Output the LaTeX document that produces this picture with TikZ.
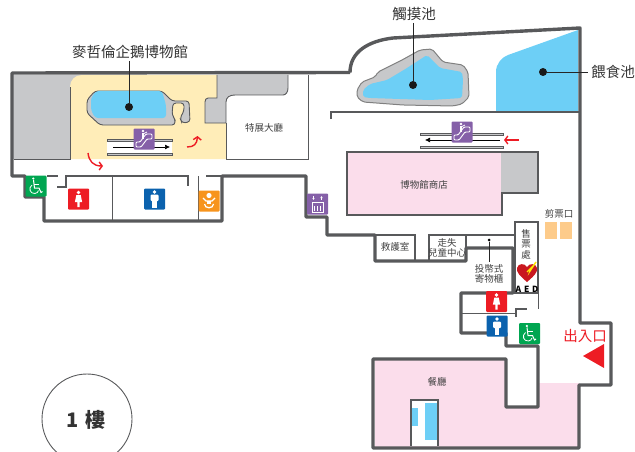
\documentclass[tikz,border=0pt]{standalone}
\usepackage{fontspec}
\setmainfont{Noto Sans CJK TC}
\usepackage{tikz}
\usetikzlibrary{calc,arrows.meta}
\definecolor{wallgray}{HTML}{58595B}
\definecolor{rockgray}{HTML}{C7C8CA}
\definecolor{poolblue}{HTML}{6DCFF6}
\definecolor{sandy}{HTML}{FFEDB8}
\definecolor{shoppink}{HTML}{FBDDEB}
\definecolor{signred}{HTML}{ED1C24}
\definecolor{signblue}{HTML}{0B62AE}
\definecolor{signgreen}{HTML}{00A651}
\definecolor{signorange}{HTML}{F7941D}
\definecolor{signpurple}{HTML}{8560A8}
\definecolor{ticketorange}{HTML}{FDCB8A}
\tikzset{
  wall/.style={draw=wallgray,line width=3.4pt,line join=round},
  thinwall/.style={draw=wallgray,line width=0.9pt},
  midwall/.style={draw=wallgray,line width=1.2pt},
  room/.style={font=\fontsize{9.5}{10.5}\selectfont,text=black!75,align=center,inner sep=0pt},
  biglabel/.style={font=\fontsize{14.5}{15}\selectfont,text=black!80,inner sep=0pt},
  signbox/.style={rounded corners=1pt,minimum size=21pt,inner sep=0pt,text=white},
  leader/.style={draw=black!85,line width=0.8pt},
  spot/.style={circle,fill=black!90,inner sep=0pt,minimum size=8pt},
  redarrow/.style={draw=signred,line width=1.4pt,-{Straight Barb[length=3pt,width=8pt]}},
  escarrow/.style={draw=black,line width=0.7pt,-{Latex[length=5pt,width=5pt]}}
}
\newcommand{\personw}{\fill (0,-6.5) circle (1.9);\fill (-2.2,-4) -- (2.2,-4) -- (3.6,3) -- (1.2,3) -- (1.2,8) -- (-1.2,8) -- (-1.2,3) -- (-3.6,3) -- cycle;}
\newcommand{\personm}{\fill (0,-7) circle (1.9);\fill[rounded corners=1pt] (-4,-4.4) rectangle (4,2);\fill (-2.4,-4) rectangle (2.4,9);}
\newcommand{\wheelchair}{\draw[white,line width=1pt] (-2.5,-6) -- (-1.5,2) -- (3,2) -- (5,6.5) -- (6.5,5.5);\fill[white] (-2.7,-7.5) circle (1.2);\draw[white,line width=0.8pt] (-4,-1) .. controls (-8,2) and (-6,8) .. (-1,7.5) .. controls (1,7.3) and (2,6) .. (2.5,4.5);\draw[white,line width=0.8pt] (-2,-2) -- (3,-2);}
\newcommand{\escalator}{\draw[white,line width=0.9pt,rounded corners=1pt] (-8,8) -- (-3,8) -- (3,0) -- (8,0) -- (8,-5) -- (2,-5) -- (-4,3) -- (-8,3) -- cycle;\fill[white] (-1,-8) circle (1.4);\draw[white,line width=1.3pt] (-1,-6) -- (-1,0);\draw[white,line width=0.8pt] (-1,-5) -- (3,-7);}
\begin{document}
\begin{tikzpicture}[x=1pt,y=-1pt]
\useasboundingbox (0,0) rectangle (635,452);
% floors
\fill[rockgray] (12,75) rectangle (82,159);
\fill[sandy] (70,159) -- (70,87) .. controls (70,80) and (75,75) .. (82,75) -- (217,75) -- (217,123) -- (226,123) -- (226,159) -- cycle;
\fill[shoppink] (375,359) -- (506,359) -- (506,407) -- (538,407) -- (538,383) -- (579,383) -- (579,448) -- (375,448) -- cycle;
\draw[thinwall] (14,159) -- (70,159) -- (70,87);
% gray blocks and hall
\draw[thinwall,fill=rockgray] (217,75) -- (217,98) -- (208,98) .. controls (206,98) and (205,100) .. (205,102) -- (205,123) -- (226,123) -- (226,102) .. controls (226,97) and (230,95) .. (235,95) -- (283,95) .. controls (286,95) and (288,92) .. (288,88) -- (288,75);
\draw[thinwall] (226,123) -- (226,159) -- (308,159) -- (308,75);
% pools
\draw[thinwall,fill=rockgray,rounded corners=3pt] (95,91) -- (162,91) -- (172,101) -- (189,101) -- (190,122) -- (182,123) -- (180,118) -- (184,111) -- (184,103) -- (173,103) -- (172,115) -- (175,119) -- (175,125) -- (100,125) -- (87,113) -- (87,100) -- cycle;
\fill[poolblue,rounded corners=3pt] (96,91) -- (162,91) -- (166,105) -- (166,118) -- (95,118) -- (91,110) -- (91,98) -- cycle;
\draw[draw=gray,line width=1pt,fill=rockgray,rounded corners=2pt] (357,90) -- (362,82) -- (375,77) -- (378,72) -- (402,60) -- (420,50) -- (432,49) -- (443,62) -- (463,65) -- (468,72) -- (469,97) -- (462,104) -- (453,106) -- (403,105) -- (363,102) -- (357,97) -- cycle;
\fill[poolblue,rounded corners=2pt] (363,90) -- (370,84) -- (387,80) -- (407,68) -- (427,55) -- (440,68) -- (462,72) -- (463,80) -- (462,98) -- (430,100) -- (370,98) -- (363,97) -- cycle;
\fill[poolblue] (496,112) -- (496,72) .. controls (496,64) and (501,58) .. (508,55) -- (578,30) -- (578,112) -- cycle;
% shop
\fill[shoppink] (347,152) rectangle (502,215);
\fill[rockgray] (501,152) rectangle (538,193);
\draw[midwall] (347,215) -- (502,215) -- (502,193) -- (538,193) -- (538,152) -- (347,152) -- cycle;
\draw[midwall] (331,119) -- (331,112) -- (580,112);
% toilets left
\draw[midwall] (47,176) -- (58,176);
\draw[midwall] (57,187) -- (66,187) -- (66,176) -- (188,176) -- (188,186);
\draw[thinwall] (112,176) -- (112,221);
\draw[thinwall] (198,176) -- (198,221);
\draw[midwall] (206,176) -- (222,176);
% outer wall
\draw[wall] (350,72.5) .. controls (350,52) and (368,41) .. (393,38) -- (580,28) -- (580,323) -- (611,323) -- (611,385) -- (579,385) -- (579,448) -- (373,448) -- (373,359) -- (506,359) -- (506,407) -- (538,407) -- (538,346) -- (506,346) -- (506,333) -- (461,333) -- (461,293) -- (513,293) -- (513,248) -- (466,248) -- (466,261) -- (375,261) -- (375,235) -- (327,235) -- (327,217) -- (306,217) -- (306,176) -- (222,176) -- (222,221) -- (44,221) -- (44,197) -- (25,197) -- (25,176) -- (12,176) -- (12,73) -- (350,72.5);
% lower right rooms
\draw[midwall,fill=white] (411,446) -- (411,400) -- (438,400) -- (438,446);
\fill[poolblue] (412,408) rectangle (418,426);
\fill[poolblue] (425,403) rectangle (437,440);
\draw[midwall] (375,235) -- (415,235) -- (415,261);
\draw[midwall] (429,261) -- (429,235) -- (515,235);
\draw[midwall] (466,235) -- (466,248);
\draw[midwall,fill=white] (515,222) rectangle (538,293);
\draw[thinwall] (538,293) -- (538,309);
\draw[thinwall] (461,313) -- (516,313);
\draw[midwall] (516,317) -- (516,309) -- (527,309);
% ticket windows
\fill[ticketorange] (545,222) rectangle (557,239);
\fill[ticketorange] (560,222) rectangle (572,239);
% escalators
\fill[white] (107,140) rectangle (172,154);
\foreach \y in {139,153} \draw[thinwall,fill=rockgray] (107,\y) rectangle (172,\y+2);
\foreach \y in {133,146} \draw[thinwall,fill=rockgray] (420,\y) rectangle (503,\y+2);
\coordinate (escAstart) at (113,147);
\coordinate (escAend) at (170,147);
\coordinate (escBstart) at (500,140);
\coordinate (escBend) at (425,140);
\draw[escarrow] (escAstart) -- (escAend);
\draw[escarrow] (escBstart) -- (escBend);
% signs
\node[signbox,fill=signpurple] (esclA) at (144,139) {};
\node[signbox,fill=signpurple] (esclB) at (462,132) {};
\node[signbox,fill=signgreen] (wheelA) at (36,186) {};
\node[signbox,fill=signred] (ladiesA) at (78.5,199) {};
\node[signbox,fill=signblue] (gentsA) at (154.5,199) {};
\node[signbox,fill=signorange] (babyroom) at (209,201) {};
\node[signbox,fill=signpurple] (lift) at (317.5,204) {};
\node[signbox,fill=signred] (ladiesB) at (496.5,301.5) {};
\node[signbox,fill=signblue] (gentsB) at (497,326) {};
\node[signbox,fill=signgreen] (wheelB) at (529.5,333.5) {};
\begin{scope}[shift={(esclA)}] \escalator \end{scope}
\begin{scope}[shift={(esclB)}] \escalator \end{scope}
\begin{scope}[shift={(wheelA)}] \wheelchair \end{scope}
\begin{scope}[shift={(wheelB)}] \wheelchair \end{scope}
\begin{scope}[shift={(ladiesA)},white] \personw \end{scope}
\begin{scope}[shift={(ladiesB)},white] \personw \end{scope}
\begin{scope}[shift={(gentsA)},white] \personm \end{scope}
\begin{scope}[shift={(gentsB)},white] \personm \end{scope}
\begin{scope}[shift={(babyroom)},white]
  \fill (0,-5.5) circle (2.6);
  \draw[line width=1.3pt] (-6,-3) -- (-3,0) -- (3,0) -- (6,-3);
  \fill (-2.2,0) rectangle (2.2,3);
  \draw[line width=1.3pt] (-4.5,3) .. controls (-4.5,8) and (4.5,8) .. (4.5,3);
\end{scope}
\begin{scope}[shift={(lift)},white]
  \draw[line width=0.8pt] (-5.5,-2) rectangle (5.5,8);
  \foreach \x in {-3,0,3} \fill (\x-0.8,2) rectangle (\x+0.8,7);
  \draw[line width=0.7pt,-{Latex[length=2pt,width=2.5pt]}] (-4,-8) -- (-4,-4);
  \draw[line width=0.7pt,-{Latex[length=2pt,width=2.5pt]}] (4,-4) -- (4,-8);
\end{scope}
% AED
\fill[signred!85!black] (527,282) .. controls (520,276) and (516,272) .. (517,268) .. controls (518,263) and (525,263) .. (527,267) .. controls (529,263) and (536,263) .. (537,268) .. controls (538,272) and (534,276) .. (527,282) -- cycle;
\draw[yellow!90!orange,line width=1.4pt] (527,272) -- (531,268) -- (530,271) -- (536,262);
\node[inner sep=0pt,font=\fontsize{8.5}{9}\selectfont\bfseries] (aed) at (527,289) {A\,\,E\,\,D};
% red arrows
\draw[redarrow] (88,153) .. controls (89,161) and (93,166) .. (103,166);
\draw[redarrow] (187,147) .. controls (194,147) and (197,144) .. (197.5,136);
\draw[redarrow] (519,140) -- (504,140);
\fill[signred] (583,356) -- (604,344) -- (604,368) -- cycle;
% labels
\node[biglabel] (penguin) at (130,52) {麥哲倫企鵝博物館};
\node[biglabel] (touch) at (414,14) {觸摸池};
\node[biglabel] (feed) at (613,72) {餵食池};
\node[room] (hall) at (264,128) {特展大廳};
\node[room] (shop) at (424,185) {博物館商店};
\node[room] (aid) at (395,247) {救護室};
\node[room] (lost) at (447,248) {走失\\兒童中心};
\node[room] (lockers) at (489,274) {投幣式\\寄物櫃};
\node[room] (tickets) at (526,244) {售\\票\\處};
\node[room] (gate) at (559,214) {剪票口};
\node[room] (dining) at (437,382) {餐廳};
\node[font=\fontsize{14.5}{15}\selectfont,text=signred,inner sep=0pt] (entrance) at (585,336) {出入口};
% leaders
\node[spot] (dotpenguin) at (129,107) {};
\node[spot] (dottouch) at (413,85) {};
\node[spot] (dotfeed) at (543,72) {};
\node[circle,fill=black,inner sep=0pt,minimum size=3pt] (dotlockers) at (489,240) {};
\draw[leader,shorten <=2pt] (penguin.south -| dotpenguin) -- (dotpenguin);
\draw[leader,shorten <=2pt] (touch.south -| dottouch) -- (dottouch);
\draw[leader,shorten >=3pt] (dotfeed) -- (feed.west);
\draw[leader,shorten >=2pt] (dotlockers) -- (lockers.north -| dotlockers);
% floor badge
\begin{scope}
\clip (0,360) rectangle (635,452);
\draw[wallgray,line width=0.9pt] (87,419) circle (45);
\end{scope}
\node[font=\fontsize{20}{21}\selectfont\bfseries,text=black!80,inner sep=0pt] (floor) at (86,420) {1\hspace{6pt}樓};
\end{tikzpicture}
\end{document}
